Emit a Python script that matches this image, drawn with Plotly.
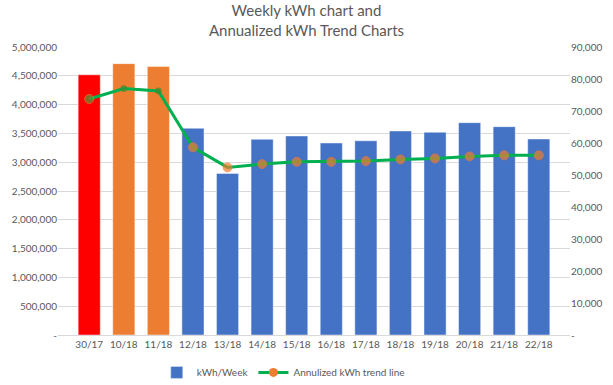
import plotly.graph_objects as go

weeks = ["30/17", "10/18", "11/18", "12/18", "13/18", "14/18", "15/18", "16/18",
         "17/18", "18/18", "19/18", "20/18", "21/18", "22/18"]
kwh_week = [81300, 84800, 83900, 64600, 50500, 61150, 62200, 60000,
            60700, 63750, 63350, 66350, 65100, 61250]
annualized = [4098000, 4278000, 4238000, 3258000, 2910000, 2967000, 3007000, 3007000,
              3020000, 3049000, 3066000, 3101000, 3119000, 3119000]
bar_colors = ["#FF0000", "#ED7D31", "#ED7D31"] + ["#4472C4"] * 11
marker_fill = ["#4E9A36", "#3F8C2E", "#3F8C2E"] + ["#F07C2E"] * 11
marker_edge = ["#ED7D31", "#3F8C2E", "#3F8C2E"] + ["#F07C2E"] * 11
marker_size = [9, 6, 6] + [9] * 11

left_ticks = list(range(0, 5000001, 500000))
left_text = ["-"] + [f"{v:,}" for v in left_ticks[1:]]
right_ticks = list(range(0, 90001, 10000))
right_text = ["-"] + [f"{v:,}" for v in right_ticks[1:]]

font = "Lato, Open Sans, sans-serif"
grey = "#595959"

fig = go.Figure()
fig.add_trace(go.Bar(
    x=weeks, y=kwh_week, name="kWh/Week", yaxis="y", showlegend=False,
    marker=dict(color=bar_colors, line=dict(color="rgba(255,255,255,0.45)", width=1)),
))
# legend entry for the bars (blue swatch)
fig.add_trace(go.Bar(
    x=[weeks[0]], y=[None], name="kWh/Week", yaxis="y", showlegend=True,
    marker=dict(color="#4472C4"),
))
fig.add_trace(go.Scatter(
    x=weeks, y=annualized, name="Annulized kWh trend line", yaxis="y2",
    mode="lines+markers", showlegend=False,
    line=dict(color="#00B050", width=3),
    marker=dict(color=marker_fill, size=marker_size, line=dict(color=marker_edge, width=1)),
))
# legend entry for the line (orange marker)
fig.add_trace(go.Scatter(
    x=[weeks[0]], y=[None], name="Annulized kWh trend line", yaxis="y2",
    mode="lines+markers", showlegend=True,
    line=dict(color="#00B050", width=3),
    marker=dict(color="#F07C2E", size=9),
))

fig.update_layout(
    width=613, height=385,
    margin=dict(l=58, r=43, t=47, b=50, autoexpand=False),
    paper_bgcolor="white", plot_bgcolor="white",
    font=dict(family=font, size=10, color=grey),
    title=dict(text="Weekly kWh chart and<br>Annualized kWh Trend Charts",
               x=0.5, xanchor="center", y=0.958, yanchor="middle",
               font=dict(family=font, size=15, color=grey)),
    bargap=0.36, barmode="overlay",
    showlegend=True,
    legend=dict(orientation="h", x=0.44, xanchor="center", y=-0.13, yanchor="middle",
                font=dict(family=font, size=10, color=grey), traceorder="normal"),
    xaxis=dict(showgrid=False, showline=True, linecolor="#D9D9D9", linewidth=1,
               ticks="", tickfont=dict(family=font, size=10, color=grey)),
    yaxis=dict(side="right", range=[0, 90000], tickvals=right_ticks, ticktext=right_text,
               showgrid=False, zeroline=False, showline=False, ticks="",
               tickfont=dict(family=font, size=10, color=grey)),
    yaxis2=dict(side="left", overlaying="y", range=[0, 5000000], tickvals=left_ticks,
                ticktext=left_text, showgrid=True, gridcolor="#D9D9D9", gridwidth=1,
                zeroline=False, showline=False, ticks="",
                tickfont=dict(family=font, size=10, color=grey)),
)

fig.write_html("out.html")
